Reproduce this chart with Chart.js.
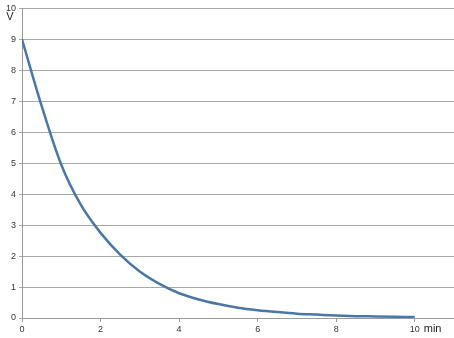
<!DOCTYPE html>
<html>
<head>
<meta charset="utf-8">
<script src="https://cdn.jsdelivr.net/npm/chart.js@4"></script>
<style>
  html, body { margin: 0; padding: 0; background: #fff; }
  #wrap { width: 454px; height: 338px; }
</style>
</head>
<body>
<div id="wrap"><canvas id="decayChart"></canvas></div>
<script>
// Tempo (min) e tensão (V)
const timeMin = [0, 0.5, 1, 1.5, 2, 2.5, 3, 3.5, 4, 4.5, 5, 5.5, 6, 6.5, 7, 7.5, 8, 8.5, 9, 9.5, 10];
const voltage = [9.0, 6.85, 4.95, 3.65, 2.75, 2.05, 1.5, 1.1, 0.8, 0.6, 0.45, 0.33, 0.25, 0.19, 0.14, 0.11, 0.08, 0.06, 0.05, 0.04, 0.03];
const xTicks = [0, 2, 4, 6, 8, 10];
const xUnit = 'min';
const yUnit = 'V';

const points = timeMin.map((t, i) => ({ x: t, y: voltage[i] }));

// Rótulos das unidades ao lado dos eixos
const unitLabels = {
    id: 'unitLabels',
    afterDraw(chart) {
        const ctx = chart.ctx;
        const xs = chart.scales.x;
        const ys = chart.scales.y;
        ctx.save();
        ctx.fillStyle = '#222';
        ctx.font = '11px "Liberation Sans", Arial, sans-serif';
        ctx.textBaseline = 'middle';
        ctx.textAlign = 'left';
        ctx.fillText(xUnit, xs.getPixelForValue(10) + 9, ys.bottom + 11);
        ctx.textAlign = 'center';
        ctx.fillText(yUnit, 10, ys.getPixelForValue(10) + 9);
        ctx.restore();
    }
};

new Chart(document.getElementById('decayChart').getContext('2d'), {
    type: 'scatter',
    data: {
        datasets: [{
            data: points,
            showLine: true,
            borderColor: '#4a76a8',
            borderWidth: 2.5,
            pointRadius: 0,
            tension: 0.4,
            cubicInterpolationMode: 'monotone'
        }]
    },
    options: {
        responsive: true,
        maintainAspectRatio: false,
        animation: false,
        layout: { padding: { top: 8, right: 0, left: 0, bottom: 0 } },
        plugins: { legend: { display: false }, tooltip: { enabled: false } },
        scales: {
            x: {
                type: 'linear',
                min: 0,
                max: 11,
                afterFit(scale) { scale.height = 20; },
                afterBuildTicks(scale) { scale.ticks = xTicks.map(v => ({ value: v })); },
                ticks: {
                    font: { size: 9, family: '"Liberation Sans", Arial, sans-serif' },
                    color: '#333',
                    padding: 2,
                    maxRotation: 0
                },
                grid: {
                    drawOnChartArea: false,
                    drawTicks: true,
                    tickLength: 4,
                    color: '#9a9a9a'
                },
                border: { color: '#9a9a9a', width: 1 }
            },
            y: {
                min: 0,
                max: 10,
                afterFit(scale) { scale.width = 22; },
                ticks: {
                    stepSize: 1,
                    font: { size: 9, family: '"Liberation Sans", Arial, sans-serif' },
                    color: '#333',
                    padding: 3
                },
                grid: {
                    color: '#a8a8a8',
                    lineWidth: 1,
                    drawTicks: true,
                    tickLength: 3
                },
                border: { color: '#9a9a9a', width: 1 }
            }
        }
    },
    plugins: [unitLabels]
});
</script>
</body>
</html>
